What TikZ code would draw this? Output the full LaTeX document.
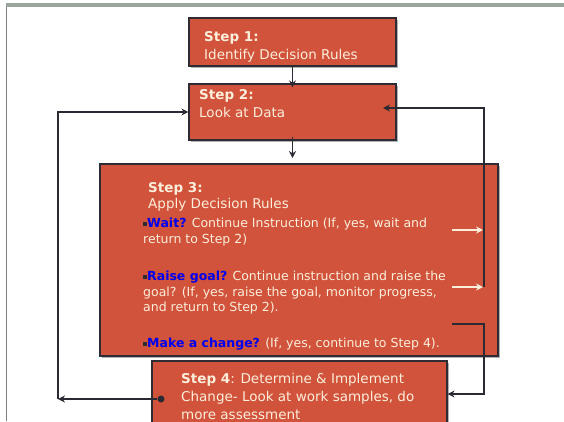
\documentclass[tikz,border=0pt]{standalone}
\usepackage{fontspec}
\setmainfont{DejaVu Sans}
\usepackage{tikz}
\usetikzlibrary{arrows.meta,shadows}

\definecolor{boxfill}{HTML}{D1533B}
\definecolor{boxline}{HTML}{2E2B33}
\definecolor{cream}{HTML}{FBEEDB}
\definecolor{linkcol}{HTML}{2A2A35}
\definecolor{framebar}{HTML}{9AA69C}
\definecolor{askblue}{HTML}{0000F0}

\tikzset{
  stepbox/.style={draw=boxline, fill=boxfill, line width=1.2pt, inner sep=0pt,
    drop shadow={shadow xshift=1.5pt, shadow yshift=-1.5pt, fill=black!30, opacity=1}},
  steptext/.style={text=cream, anchor=north west, inner sep=0pt, align=left,
    font=\fontsize{13.5}{18}\selectfont},
  bullettext/.style={text=cream, anchor=north west, inner sep=0pt, align=left,
    font=\fontsize{12.5}{15.5}\selectfont},
  link/.style={draw=linkcol, line width=1.8pt, -{Stealth[length=7pt,width=7pt]}},
  whitelink/.style={link, draw=cream, -{Stealth[length=7pt,width=7pt,fill=cream]}},
  dotnode/.style={circle, fill=linkcol, inner sep=0pt, minimum size=7pt}
}
\newcommand{\ask}[1]{{\color{boxline}\rule[2.2pt]{4pt}{4pt}}\textbf{\color{askblue}#1}}

\begin{document}
\begin{tikzpicture}[x=1pt,y=-1pt]
\clip (0,0) rectangle (564,421);
% slide frame
\fill[framebar] (6,3) rectangle (564,7);
\draw[gray, line width=1pt] (6.5,7) -- (6.5,421);

% boxes
\node[stepbox, minimum width=207pt, minimum height=48pt] (s1) at (292.5,42) {};
\node[stepbox, minimum width=207pt, minimum height=56pt] (s2) at (292.5,112) {};
\node[stepbox, minimum width=398pt, minimum height=192pt] (s3) at (299,260) {};
\node[stepbox, minimum width=295pt, minimum height=66pt] (s4) at (299.5,394) {};

% texts
\node[steptext] (t1) at (204,31) {\textbf{Step 1:}\\Identify Decision Rules};
\node[steptext] (t2) at (199,89) {\textbf{Step 2:}\\Look at Data};
\node[steptext, font=\fontsize{13.5}{16.5}\selectfont] (t3) at (148,182) {\textbf{Step 3:}\\Apply Decision Rules};
\node[bullettext] (b1) at (143,218) {\ask{Wait?} Continue Instruction (If, yes, wait and\\return to Step 2)};
\node[bullettext] (b2) at (143,271) {\ask{Raise goal?} Continue instruction and raise the\\goal? (If, yes, raise the goal, monitor progress,\\and return to Step 2).};
\node[bullettext] (b3) at (143,338) {\ask{Make a change?} (If, yes, continue to Step 4).};
\node[steptext] (t4) at (181,373) {\textbf{Step 4}: Determine \& Implement\\Change- Look at work samples, do\\more assessment};

% connectors
\coordinate (s3in) at (292.5,158);
\coordinate (lc) at (58,399);
\coordinate (s2r) at (383,108);
\coordinate (rj) at (484,287);
\coordinate (w1s) at (452,230);
\coordinate (w1e) at (483,230);
\coordinate (w2s) at (452,287);
\coordinate (w2e) at (483,287);
\coordinate (c3) at (452,324);
\coordinate (rk) at (484,394);
\node[dotnode] (d4) at (161,399) {};

\draw[link] (s1.south) -- ([yshift=-4pt]s2.north);
\draw[link] ([yshift=4pt]s2.south) -- (s3in);
\draw[link] (d4) -- (lc);
\draw[link] (lc) |- (s2.west);
\draw[link] (rj) |- (s2r);
\draw[whitelink] (w1s) -- (w1e);
\draw[whitelink] (w2s) -- (w2e);
\draw[link] (c3) -| (rk) -- (s4.east);
\end{tikzpicture}
\end{document}
